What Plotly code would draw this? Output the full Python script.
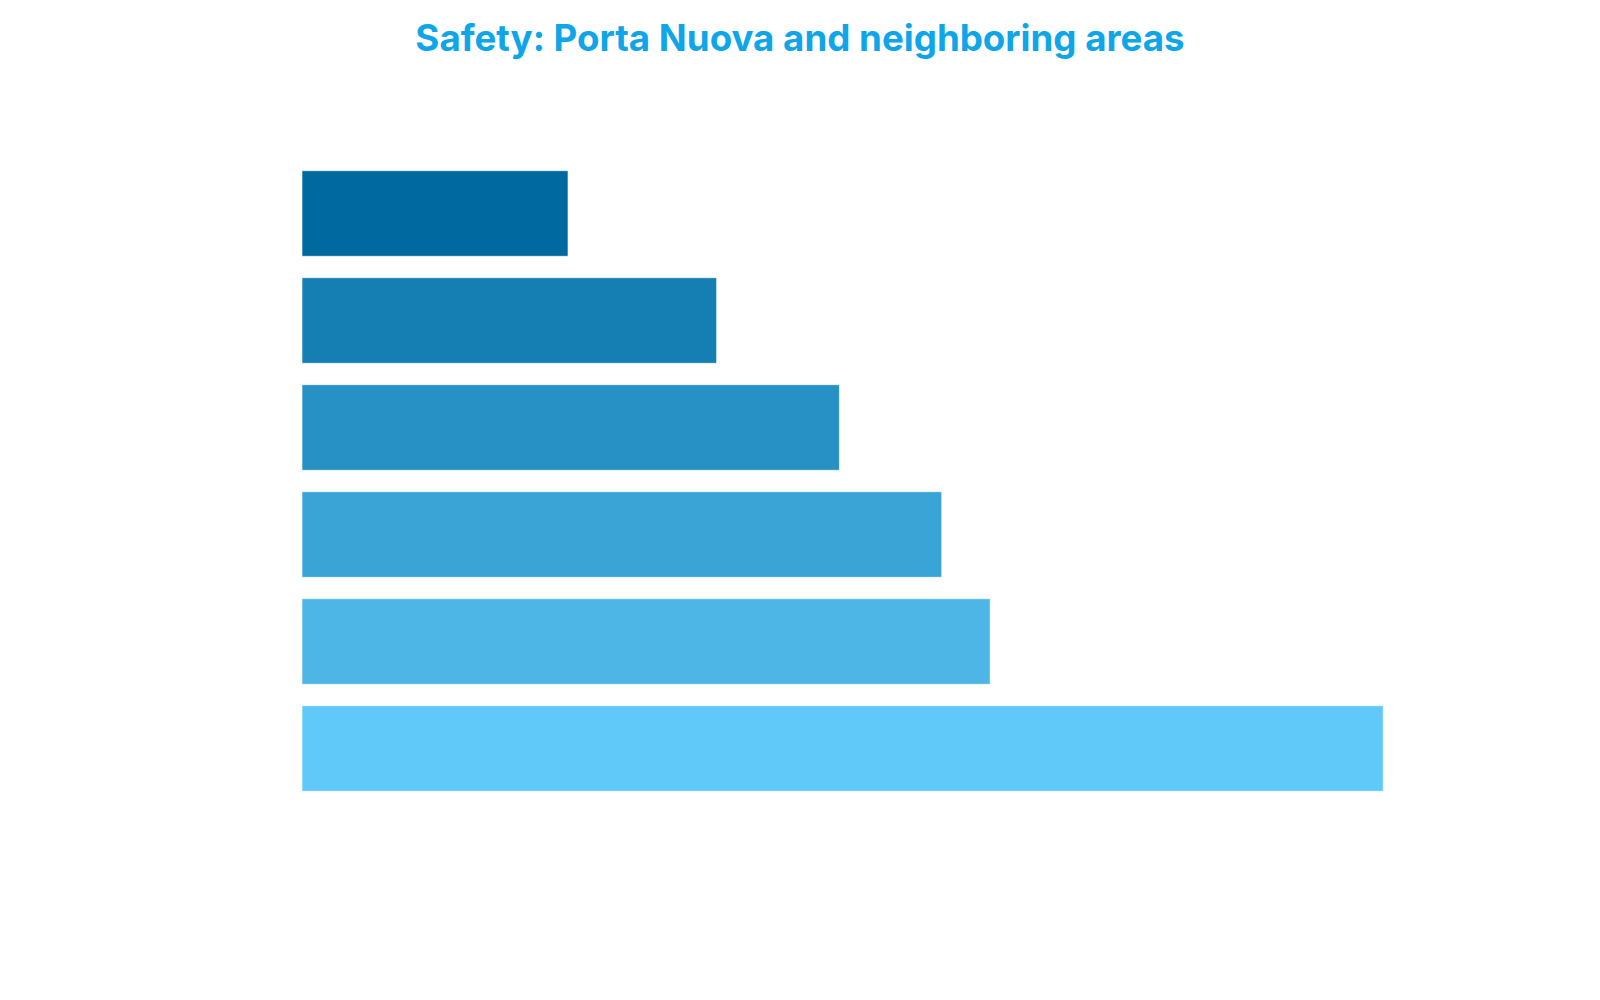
import plotly.graph_objects as go

# Areas, listed bottom-to-top as plotly draws categories
areas = ["Porta Nuova", "Isola", "Garibaldi", "Brera", "Centrale", "Repubblica"]
safety_scores = [10.04, 6.39, 5.94, 4.99, 3.85, 2.47]
bar_colors = ["#60C9F9", "#4DB6E7", "#3BA4D6", "#2791C6", "#157FB3", "#006AA0"]

fig = go.Figure(
    go.Bar(
        x=safety_scores,
        y=areas,
        orientation="h",
        marker=dict(color=bar_colors, line=dict(color="rgba(255,255,255,0.6)", width=1)),
        hoverinfo="x+y",
    )
)

fig.update_layout(
    width=1600,
    height=1000,
    title=dict(
        text="<b>Safety: Porta Nuova and neighboring areas</b>",
        x=0.495,
        xanchor="center",
        y=0.970,
        yanchor="middle",
        font=dict(family="Inter", size=36.7, color="#0EA5E9"),
    ),
    margin=dict(l=294, r=144, t=152, b=206),
    bargap=0.2,
    plot_bgcolor="white",
    paper_bgcolor="white",
    showlegend=False,
    xaxis=dict(range=[0, 10.79], showticklabels=False, showgrid=False, zeroline=False, showline=False),
    yaxis=dict(showticklabels=False, showgrid=False, zeroline=False, showline=False),
)

fig.write_html("out.html")
